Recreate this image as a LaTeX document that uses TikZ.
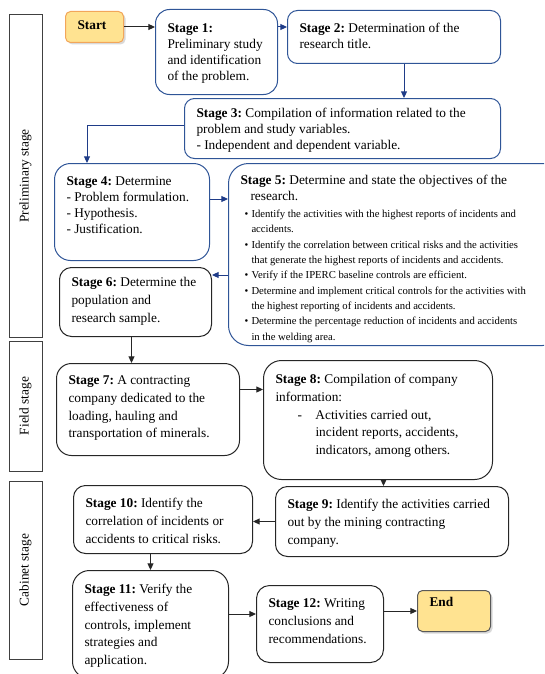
\documentclass[tikz,border=0pt]{standalone}
\usepackage{fontspec}
\setmainfont{Liberation Serif}
\usetikzlibrary{arrows.meta,calc,shadows}

\definecolor{boxblue}{HTML}{2F5597}
\definecolor{arrowblue}{HTML}{1F3C88}
\definecolor{boxgray}{HTML}{262626}
\definecolor{termfill}{HTML}{FFE391}
\definecolor{startline}{HTML}{F2A65A}
\definecolor{endline}{HTML}{595959}

\newlength\pxu
\setlength\pxu{0.75pt}
\frenchspacing
% [top pad]{width}{height}{text}
\newcommand\boxtext[4][10]{\parbox[c][#3\pxu][t]{#2\pxu}{\leftskip=12\pxu\rightskip=3\pxu plus 1fil\parindent=0pt\vspace*{#1\pxu}\strut#4}}

\tikzset{every picture/.style={line width=0.75pt}}

\begin{document}
\begin{tikzpicture}[x=0.75pt,y=0.75pt,yscale=-1,xscale=1,
	bluebox/.style={draw=boxblue, anchor=north west, inner sep=0pt, font=\fontsize{10}{12}\selectfont},
	blackbox/.style={draw=boxgray, anchor=north west, inner sep=0pt, font=\fontsize{10}{13.2}\selectfont},
	termbox/.style={fill=termfill, anchor=north west, inner sep=0pt, rounded corners=5\pxu, font=\fontsize{10}{12}\selectfont, drop shadow={shadow xshift=1.5pt, shadow yshift=-1.5pt, opacity=0.3}},
	phasebox/.style={draw=black!75, rotate=90, minimum height=33\pxu, inner sep=0pt, font=\fontsize{10}{12}\selectfont},
	bluearrow/.style={draw=arrowblue, -{Triangle[length=5pt,width=4.5pt]}},
	blackarrow/.style={draw=boxgray, -{Triangle[length=5pt,width=4.5pt]}}]
	\useasboundingbox (0,0) rectangle (544,674);
	\clip (0,0) rectangle (544,674);

	%Phase labels
	\node[phasebox, minimum width=322\pxu] (prelim) at (25.5,176) {Preliminary stage};
	\node[phasebox, minimum width=130\pxu] (field) at (25.5,406) {Field stage};
	\node[phasebox, minimum width=178\pxu] (cabinet) at (25.5,570) {Cabinet stage};

	%Start and end
	\node[termbox, draw=startline] (start) at (65,11) {\boxtext[7]{58}{31}{\textbf{Start}}};
	\node[termbox, draw=endline] (end) at (417,590) {\boxtext[5]{73}{41}{\textbf{End}}};

	%Preliminary stage boxes
	\node[bluebox, rounded corners=14\pxu] (s1) at (155,9) {\boxtext[12]{122}{85}{\textbf{Stage 1:}\\Preliminary study\\and identification\\of the problem.}};
	\node[bluebox, rounded corners=10\pxu] (s2) at (287,10) {\boxtext[11]{213}{53}{\textbf{Stage 2:} Determination of the\\research title.}};
	\node[bluebox, rounded corners=10\pxu] (s3) at (184,98) {\boxtext[8]{316}{60}{\textbf{Stage 3:} Compilation of information related to the\\problem and study variables.\\- Independent and dependent variable.}};
	\node[bluebox, rounded corners=16\pxu] (s4) at (54,163) {\boxtext[11]{155}{97}{\textbf{Stage 4:} Determine\\- Problem formulation.\\- Hypothesis.\\- Justification.}};
	\node[bluebox, rounded corners=20\pxu] (s5) at (228,163) {\boxtext{334}{182}{\textbf{Stage 5:} Determine and state the objectives of the\\
		\hspace*{10\pxu}research.\\[1.5pt]
		\fontsize{8}{11.5}\selectfont
		\hspace*{4\pxu}\makebox[7\pxu][l]{\textbullet}Identify the activities with the highest reports of incidents and\\
		\hspace*{11\pxu}accidents.\\
		\hspace*{4\pxu}\makebox[7\pxu][l]{\textbullet}Identify the correlation between critical risks and the activities\\
		\hspace*{11\pxu}that generate the highest reports of incidents and accidents.\\
		\hspace*{4\pxu}\makebox[7\pxu][l]{\textbullet}Verify if the IPERC baseline controls are efficient.\\
		\hspace*{4\pxu}\makebox[7\pxu][l]{\textbullet}Determine and implement critical controls for the activities with\\
		\hspace*{11\pxu}the highest reporting of incidents and accidents.\\
		\hspace*{4\pxu}\makebox[7\pxu][l]{\textbullet}Determine the percentage reduction of incidents and accidents\\
		\hspace*{11\pxu}in the welding area.}};
	\node[blackbox, rounded corners=12\pxu] (s6) at (59,267) {\boxtext[7]{152}{69}{\textbf{Stage 6:} Determine the\\population and\\research sample.}};

	%Field stage boxes
	\node[blackbox, rounded corners=15\pxu] (s7) at (56,363) {\boxtext[9]{183}{92}{\textbf{Stage 7:} A contracting\\company dedicated to the\\loading, hauling and\\transportation of minerals.}};
	\node[blackbox, rounded corners=18\pxu] (s8) at (263,360) {\boxtext[11]{229}{119}{\textbf{Stage 8:} Compilation of company\\information:\\
		\hspace*{16.5pt}\makebox[13.5pt][l]{-}Activities carried out,\\
		\hspace*{30pt}incident reports, accidents,\\
		\hspace*{30pt}indicators, among others.}};

	%Cabinet stage boxes
	\node[blackbox, rounded corners=12\pxu] (s9) at (275,486) {\boxtext{233}{70}{\textbf{Stage 9:} Identify the activities carried\\out by the mining contracting\\company.}};
	\node[blackbox, rounded corners=12\pxu] (s10) at (73,485) {\boxtext{179}{68}{\textbf{Stage 10:} Identify the\\correlation of incidents or\\accidents to critical risks.}};
	\node[blackbox, rounded corners=17\pxu] (s11) at (72,570) {\boxtext[11]{156}{108}{\textbf{Stage 11:} Verify the\\effectiveness of\\controls, implement\\strategies and\\application.}};
	\node[blackbox, rounded corners=13\pxu] (s12) at (256,585) {\boxtext{127}{77}{\textbf{Stage 12:} Writing\\conclusions and\\recommendations.}};

	%Connectors
	\draw[blackarrow] (start.east) -- (start.east -| s1.west);
	\draw[bluearrow] (s1.east |- start.east) -- (s2.west |- start.east);
	\coordinate (a23) at ($(s2.south)+(10,0)$);
	\draw[bluearrow] (a23) -- (a23 |- s3.north);
	\coordinate (a34) at ($(s4.north west)+(33,0)$);
	\draw[bluearrow] ($(s3.west)+(0,-3)$) -| (a34);
	\coordinate (a45) at ($(s4.east)+(0,-13)$);
	\draw[bluearrow] (a45) -- (a45 -| s5.west);
	\coordinate (a56) at ($(s6.north east)+(0,8)$);
	\draw[bluearrow] (a56 -| s5.west) -- (a56);
	\coordinate (a67) at ($(s6.south)+(-4,0)$);
	\draw[blackarrow] (a67) -- (a67 |- s7.north);
	\coordinate (a78) at ($(s7.east)+(0,-20)$);
	\draw[blackarrow] (a78) -- (a78 -| s8.west);
	\coordinate (a89) at ($(s8.south)+(5.5,0)$);
	\draw[blackarrow] (a89) -- (a89 |- s9.north);
	\draw[blackarrow] (s9.west) -- (s9.west -| s10.east);
	\draw[blackarrow] (s10.south -| s11.north) -- (s11.north);
	\coordinate (a1112) at ($(s12.west)+(0,-10)$);
	\draw[blackarrow] (a1112 -| s11.east) -- (a1112);
	\draw[blackarrow] (s12.east |- end.west) -- (end.west);

\end{tikzpicture}
\end{document}
